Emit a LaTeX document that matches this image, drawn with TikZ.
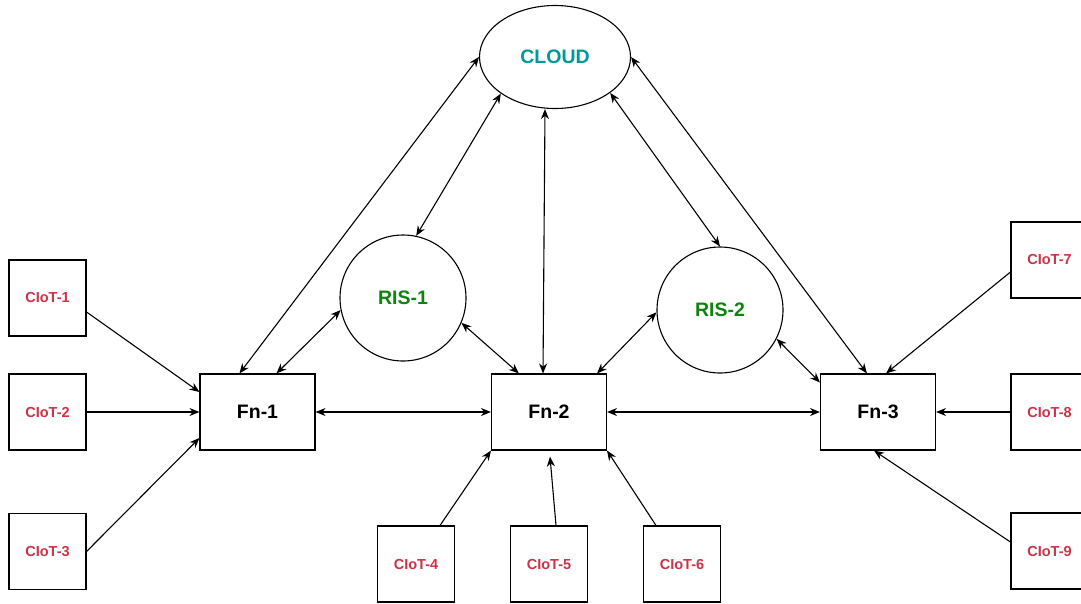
\documentclass[tikz,border=0pt]{standalone}
\usepackage{fontspec}
\setmainfont{Liberation Sans}
\usetikzlibrary{arrows.meta,calc,shapes.geometric}
\definecolor{ciotred}{RGB}{204,51,72}
\definecolor{risgreen}{RGB}{16,130,16}
\definecolor{cloudteal}{RGB}{0,153,153}
\begin{document}
\begin{tikzpicture}[x=1pt,y=-1pt,
  line width=1.1pt,
  arr/.style={-{Stealth[length=10pt,width=8pt]}},
  darr/.style={{Stealth[length=10pt,width=8pt]}-{Stealth[length=10pt,width=8pt]}},
  fnbox/.style={draw,rectangle,minimum width=115pt,minimum height=76pt,inner sep=0pt,font=\fontsize{19.5}{22}\selectfont\bfseries},
  ciot/.style={draw,rectangle,minimum width=77pt,minimum height=76pt,inner sep=0pt,text=ciotred,font=\fontsize{14.5}{17}\selectfont\bfseries},
  ris/.style={draw,circle,minimum size=126pt,inner sep=0pt,text=risgreen,font=\fontsize{19.5}{22}\selectfont\bfseries},
]
\useasboundingbox (0,0) rectangle (1081,603);
\fill[white] (0,0) rectangle (1081,603);

\node[draw,ellipse,minimum width=151pt,minimum height=103pt,inner sep=0pt,text=cloudteal,font=\fontsize{19.5}{22}\selectfont\bfseries] (cloud) at (555,57) {CLOUD};
\node[ris] (ris1) at (403,298) {RIS-1};
\node[ris] (ris2) at (720,310) {RIS-2};

\node[fnbox] (fn1) at (257.5,412) {Fn-1};
\node[fnbox] (fn2) at (549,412) {Fn-2};
\node[fnbox] (fn3) at (878,412) {Fn-3};

\node[ciot] (c1) at (47.5,298) {CIoT-1};
\node[ciot] (c2) at (47.5,412) {CIoT-2};
\node[ciot] (c3) at (47.5,551.5) {CIoT-3};
\node[ciot] (c4) at (416,564) {CIoT-4};
\node[ciot] (c5) at (549,564) {CIoT-5};
\node[ciot] (c6) at (682,564) {CIoT-6};
\node[ciot] (c7) at (1049.5,260) {CIoT-7};
\node[ciot] (c8) at (1049.5,412) {CIoT-8};
\node[ciot] (c9) at (1049.5,551) {CIoT-9};

% cloud links
\draw[darr] (cloud.west) -- ($(fn1.north west)+(40,0)$);
\draw[darr] (cloud.214) -- (ris1.78);
\draw[darr] ($(cloud.south)+(-10,0)$) -- ($(fn2.north)+(-6,0)$);
\draw[darr] (cloud.-33) -- (ris2.north);
\draw[darr] (cloud.east) -- ($(fn3.north west)+(47,0)$);

% RIS links
\draw[darr] (ris1.191) -- ($(fn1.north west)+(77,0)$);
\draw[darr] (ris1.-23) -- ($(fn2.north west)+(28,0)$);
\draw[darr] (ris2.182) -- ($(fn2.north east)+(-10,0)$);
\draw[darr] (ris2.-27) -- ($(fn3.north west)+(0,9)$);

% Fn links
\draw[darr] (fn1.east) -- (fn2.west);
\draw[darr] (fn2.east) -- (fn3.west);

% CIoT links
\draw[arr] ($(c1.east)+(0,14)$) -- ($(fn1.west)+(0,-20)$);
\draw[arr] (c2.east) -- (fn1.west);
\draw[arr] (c3.east) -- ($(fn1.west)+(0,26)$);
\draw[arr] ($(c4.north)+(24,0)$) -- (fn2.south west);
\draw[arr] ($(c5.north)+(7,0)$) -- ($(fn2.south)+(1,6)$);
\draw[arr] ($(c6.north)+(-26,0)$) -- (fn2.south east);
\draw[arr] ($(c7.west)+(0,12)$) -- ($(fn3.north)+(8,0)$);
\draw[arr] (c8.west) -- (fn3.east);
\draw[arr] ($(c9.west)+(0,-9)$) -- ($(fn3.south)+(-4,0)$);
\end{tikzpicture}
\end{document}
